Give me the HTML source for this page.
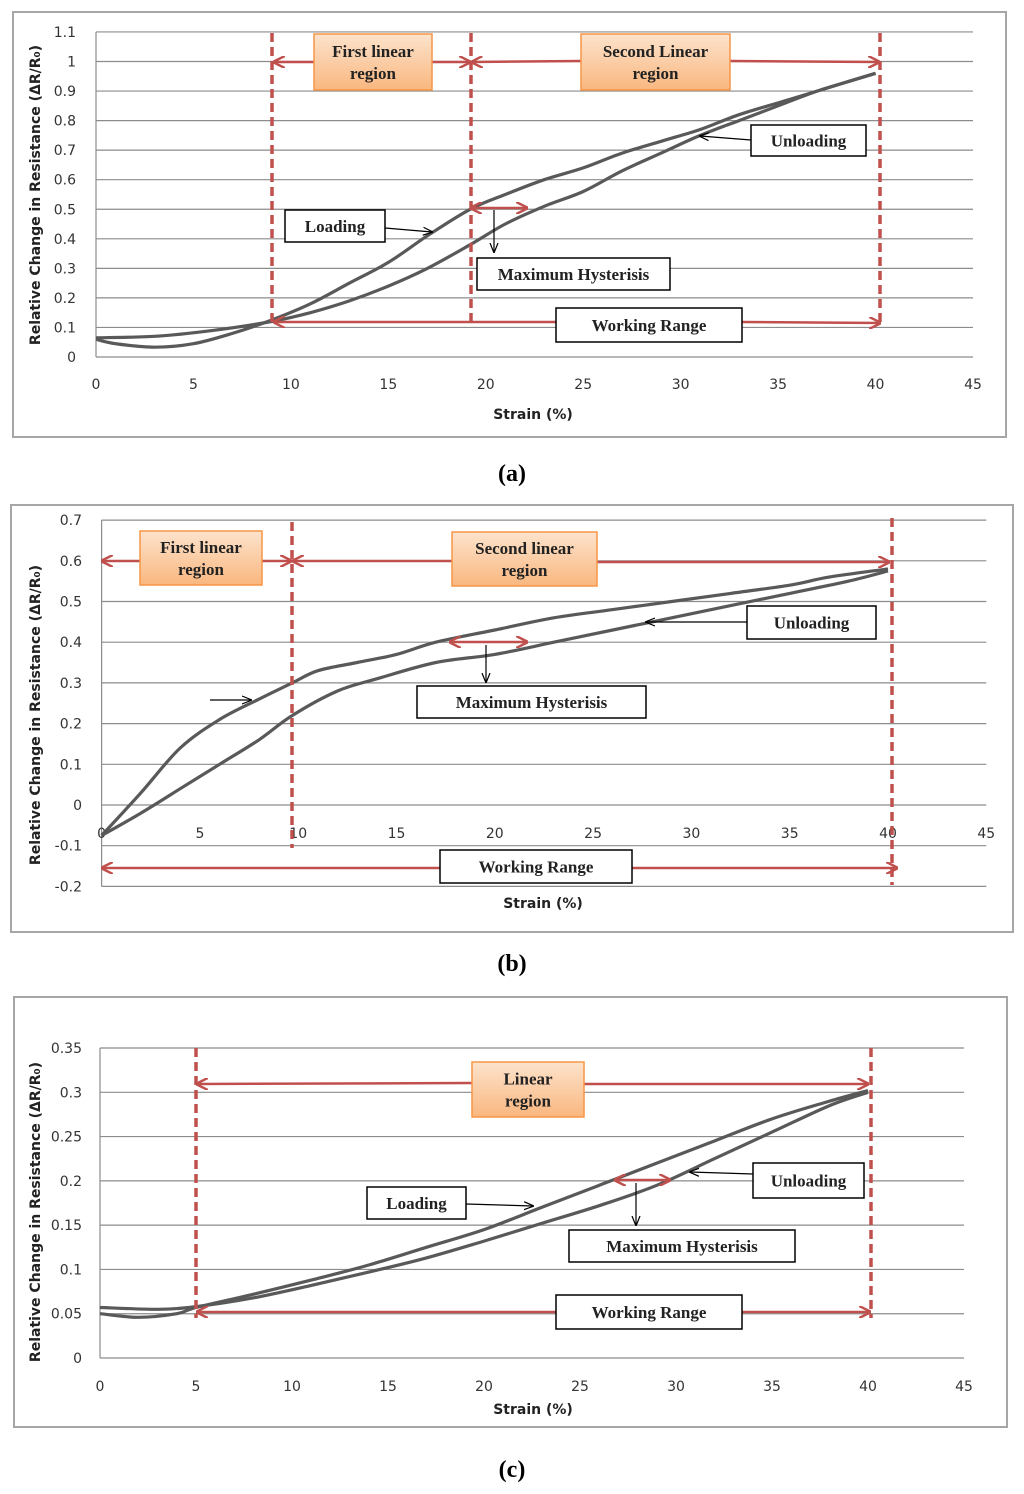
<!DOCTYPE html>
<html><head><meta charset="utf-8"><style>
body{margin:0;background:#fff}
svg{display:block}
.tk{font-family:"DejaVu Sans","Liberation Sans",sans-serif;font-size:14px;fill:#333}
.ttl{font-family:"DejaVu Sans","Liberation Sans",sans-serif;font-size:14px;font-weight:bold;fill:#222}
.ann{font-family:"Liberation Serif",serif;font-size:17px;font-weight:bold;fill:#222}
.cap{font-family:"Liberation Serif",serif;font-size:24px;font-weight:bold;fill:#000}
</style></head><body>
<svg id="s" width="1024" height="1494" viewBox="0 0 1024 1494" xmlns="http://www.w3.org/2000/svg">
<defs>
<marker id="ra" viewBox="0 0 10 10" refX="9" refY="5" markerWidth="12" markerHeight="12" orient="auto-start-reverse" markerUnits="userSpaceOnUse"><path d="M0,0 L10,5 L0,10" fill="none" stroke="#c0504d" stroke-width="2"/></marker>
<marker id="ka" viewBox="0 0 10 10" refX="9" refY="5" markerWidth="10" markerHeight="10" orient="auto" markerUnits="userSpaceOnUse"><path d="M0,1 L10,5 L0,9" fill="none" stroke="#000" stroke-width="1.2"/></marker>
<linearGradient id="og" x1="0" y1="0" x2="0" y2="1"><stop offset="0" stop-color="#fde3cc"/><stop offset="1" stop-color="#f9b77f"/></linearGradient>
</defs>
</svg>
<script>
// Panel (a)
const aStrain = [0,1,3,5,7,9,11,13,15,17,19.2,21,23,25,27,29,31,33,35,37,39,40];
const aLoading = [0.06,0.045,0.033,0.045,0.08,0.125,0.18,0.25,0.32,0.41,0.5,0.55,0.6,0.64,0.69,0.73,0.77,0.82,0.86,0.9,0.94,0.96];
const aUnloadStrain = [0,3,6,9,11,13,15,17,19.2,21,23,25,27,29,31,33,35,37,39,40];
const aUnloading = [0.065,0.07,0.09,0.12,0.15,0.19,0.24,0.3,0.38,0.45,0.51,0.56,0.63,0.69,0.75,0.8,0.85,0.9,0.94,0.96];
const aYTicks = [0,0.1,0.2,0.3,0.4,0.5,0.6,0.7,0.8,0.9,1,1.1];
// Panel (b)
const bStrain = [0,2,4,6,8,9.7,11,13,15,17,20,23,26,29,32,35,37,40];
const bLoading = [-0.075,0.03,0.14,0.21,0.26,0.3,0.33,0.35,0.37,0.4,0.43,0.46,0.48,0.5,0.52,0.54,0.56,0.58];
const bUnloadStrain = [0,2,4,6,8,9.7,12,14,17,20,23,26,29,32,35,38,40];
const bUnloading = [-0.075,-0.02,0.04,0.1,0.16,0.22,0.28,0.31,0.35,0.37,0.4,0.43,0.46,0.49,0.52,0.55,0.575];
const bYTicks = [-0.2,-0.1,0,0.1,0.2,0.3,0.4,0.5,0.6,0.7];
// Panel (c)
const cStrain = [0,2,4,5,8,11,14,17,20,23,26,29,32,35,38,40];
const cLoading = [0.05,0.046,0.05,0.057,0.072,0.088,0.105,0.125,0.145,0.17,0.195,0.22,0.245,0.27,0.29,0.302];
const cUnloadStrain = [0,3,5,8,11,14,17,20,23,26,29,32,35,38,40];
const cUnloading = [0.057,0.055,0.058,0.068,0.082,0.097,0.113,0.132,0.152,0.172,0.195,0.225,0.255,0.285,0.3];
const cYTicks = [0,0.05,0.1,0.15,0.2,0.25,0.3,0.35];
const xTicks = [0,5,10,15,20,25,30,35,40,45];

const S=document.getElementById('s');const NS='http://www.w3.org/2000/svg';
function mk(tag,at,parent){const e=document.createElementNS(NS,tag);for(const k in at)e.setAttribute(k,at[k]);(parent||S).appendChild(e);return e;}
function txt(parent,x,y,s,cls,anchor){const t=mk('text',{x:x,y:y,class:cls,'text-anchor':anchor||'middle'},parent);t.textContent=s;return t;}
function smooth(pts){
  let d='M'+pts[0][0].toFixed(1)+','+pts[0][1].toFixed(1);
  for(let i=0;i<pts.length-1;i++){
    const p0=pts[Math.max(i-1,0)],p1=pts[i],p2=pts[i+1],p3=pts[Math.min(i+2,pts.length-1)];
    const c1=[p1[0]+(p2[0]-p0[0])/6,p1[1]+(p2[1]-p0[1])/6],c2=[p2[0]-(p3[0]-p1[0])/6,p2[1]-(p3[1]-p1[1])/6];
    d+=' C'+c1.map(v=>v.toFixed(1)).join(',')+' '+c2.map(v=>v.toFixed(1)).join(',')+' '+p2.map(v=>v.toFixed(1)).join(',');
  }
  return d;
}

function panel(P){
  const g=mk('g',{});
  
  
  const X=v=>P.x0+v*P.xs, Y=v=>P.y0-v*P.ys;
  const fr=mk('rect',{x:P.frame[0],y:P.frame[1],width:P.frame[2]-P.frame[0],height:P.frame[3]-P.frame[1],fill:'#fff',stroke:'#a6a6a6','stroke-width':2},g);
  
  
  const yt=P.yTicks, ymin=yt[0], ymax=yt[yt.length-1];
  yt.forEach(v=>{
    const l=mk('line',{x1:X(0),x2:X(45),y1:Y(v),y2:Y(v),stroke:'#8c8c8c','stroke-width':1.2},g);
    
    
    const t=txt(g,P.yLabX,Y(v)+5,String(v),'tk','end');
    
    
  });
  mk('line',{x1:X(0),x2:X(0),y1:Y(ymin),y2:Y(ymax),stroke:'#8c8c8c','stroke-width':1.2},g);
  xTicks.forEach(v=>{
    const t=txt(g,X(v),P.xLabY,String(v),'tk');
    
    
  });
  const xt=txt(g,P.xTitle[0],P.xTitle[1],'Strain (%)','ttl');
  
  
  const ytl=txt(g,0,0,'Relative Change in Resistance (\u0394R/R\u2080)','ttl');
  ytl.setAttribute('transform','translate('+P.yTitle[0]+','+P.yTitle[1]+') rotate(-90)');
  
  
  [[P.lx,P.ly,'loading-curve'],[P.ux,P.uy,'unloading-curve']].forEach(c=>{
    const pts=c[0].map((v,i)=>[X(v),Y(c[1][i])]);
    const p=mk('path',{d:smooth(pts),fill:'none',stroke:'#595959','stroke-width':3.2,'stroke-linejoin':'round'},g);
    
    
  });
  P.vlines.forEach(v=>{
    const l=mk('line',{x1:v[0],x2:v[0],y1:v[1],y2:v[2],stroke:'#c0504d','stroke-width':3.5,'stroke-dasharray':'9,5'},g);
    
    
  });
  P.rarrows.forEach(a=>{
    const at={x1:a[0],y1:a[1],x2:a[2],y2:a[3],stroke:'#c0504d','stroke-width':2.5,'marker-end':'url(#ra)'};
    if(a[5])at['marker-start']='url(#ra)';
    const l=mk('line',at,g);
    
    
  });
  P.karrows.forEach(a=>{
    const l=mk('line',{x1:a[0],y1:a[1],x2:a[2],y2:a[3],stroke:'#000','stroke-width':1.2,'marker-end':'url(#ka)'},g);
    
    
  });
  P.boxes.forEach(b=>{
    const bg=mk('g',{},g);
    
    
    const orange=b[5];
    mk('rect',{x:b[0],y:b[1],width:b[2]-b[0],height:b[3]-b[1],fill:orange?'url(#og)':'#fff',stroke:orange?'#f79646':'#000','stroke-width':1.5},bg);
    const cx=(b[0]+b[2])/2, lines=b[4].split('|');
    const cy=(b[1]+b[3])/2;
    lines.forEach((s,i)=>txt(bg,cx,cy+6+(i-(lines.length-1)/2)*22,s,'ann'));
  });
  const cap=txt(S,512,P.cap,P.capText,'cap');
  
  
}

panel({name:'panel-a',frame:[13,12,1006,437],x0:96,xs:877/45,y0:357,ys:295.5,yTicks:aYTicks,yLabX:76,xLabY:389,
  xTitle:[533,419],yTitle:[40,195],lx:aStrain,ly:aLoading,ux:aUnloadStrain,uy:aUnloading,
  vlines:[[272,33,323],[471,33,323],[880,33,326]],
  rarrows:[[314,62,274,62,'first-region-arrow-left'],[432,62,470,62,'first-region-arrow-right'],[581,61,472,62,'second-region-arrow-left'],[730,61,879,62,'second-region-arrow-right'],[556,322,274,322,'working-range-arrow-left'],[742,322,880,323,'working-range-arrow-right'],[471,208,527,208,'max-hysteresis-arrow',1]],
  karrows:[[385,228,432,232],[751,140,700,136],[494,210,494,252]],
  boxes:[[314,34,432,90,'First linear|region',1,'first-linear-region-label'],[581,34,730,90,'Second Linear|region',1,'second-linear-region-label'],[556,308,742,342,'Working Range',0,'working-range-label'],[285,210,385,242,'Loading',0,'loading-label'],[751,125,866,156,'Unloading',0,'unloading-label'],[477,258,670,290,'Maximum Hysterisis',0,'max-hysteresis-label']],
  cap:481,capText:'(a)'});

panel({name:'panel-b',frame:[11,505,1013,932],x0:101.6,xs:19.66,y0:805,ys:407,yTicks:bYTicks,yLabX:82,xLabY:838,
  xTitle:[543,908],yTitle:[40,715],lx:bStrain,ly:bLoading,ux:bUnloadStrain,uy:bUnloading,
  vlines:[[292,522,848],[892,518,885]],
  rarrows:[[140,561,102,561,'first-region-arrow-left'],[262,561,291,561,'first-region-arrow-right'],[452,561,293,561,'second-region-arrow-left'],[597,562,889,562,'second-region-arrow-right'],[440,868,102,868,'working-range-arrow-left'],[632,868,897,868,'working-range-arrow-right'],[450,642,527,642,'max-hysteresis-arrow',1]],
  karrows:[[210,700,251,700],[747,622,646,622],[486,645,486,682]],
  boxes:[[140,531,262,585,'First linear|region',1,'first-linear-region-label'],[452,532,597,586,'Second linear|region',1,'second-linear-region-label'],[440,850,632,883,'Working Range',0,'working-range-label'],[747,606,876,639,'Unloading',0,'unloading-label'],[417,686,646,718,'Maximum Hysterisis',0,'max-hysteresis-label']],
  cap:971,capText:'(b)'});

panel({name:'panel-c',frame:[14,997,1007,1427],x0:100,xs:19.2,y0:1358,ys:885.7,yTicks:cYTicks,yLabX:82,xLabY:1391,
  xTitle:[533,1414],yTitle:[40,1212],lx:cStrain,ly:cLoading,ux:cUnloadStrain,uy:cUnloading,
  vlines:[[196,1048,1318],[871,1048,1318]],
  rarrows:[[472,1083,197,1084,'linear-region-arrow-left'],[584,1084,868,1084,'linear-region-arrow-right'],[556,1312,197,1312,'working-range-arrow-left'],[742,1312,870,1312,'working-range-arrow-right'],[615,1180,670,1180,'max-hysteresis-arrow',1]],
  karrows:[[466,1204,533,1206],[753,1174,690,1172],[636,1183,636,1225]],
  boxes:[[472,1062,584,1117,'Linear|region',1,'linear-region-label'],[556,1295,742,1329,'Working Range',0,'working-range-label'],[367,1187,466,1219,'Loading',0,'loading-label'],[753,1163,864,1198,'Unloading',0,'unloading-label'],[569,1230,795,1262,'Maximum Hysterisis',0,'max-hysteresis-label']],
  cap:1477,capText:'(c)'});
</script>
</body></html>
